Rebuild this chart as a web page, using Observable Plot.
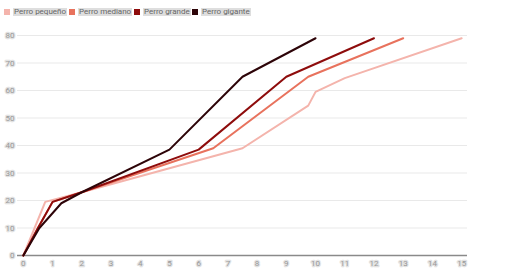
<!DOCTYPE html>
<html>
<head>
<meta charset="utf-8">
<script src="https://cdn.jsdelivr.net/npm/d3@7"></script>
<script src="https://cdn.jsdelivr.net/npm/@observablehq/plot@0.6"></script>
<style>
  html, body { margin: 0; padding: 0; background: #fff; }
  #wrap { width: 510px; height: 277px; position: relative; font-family: Roboto, "Liberation Sans", sans-serif; }
  #legend { height: 20px; position: relative; }
  .item { position: absolute; top: 8px; display: flex; align-items: center; font-size: 8px; color: #666; }
  .sw { width: 6px; height: 6px; margin-right: 3px; }
  .lab { background: #dedede; line-height: 8px; padding: 0 1px; }
  svg { display: block; }
</style>
</head>
<body>
<div id="wrap">
  <div id="legend"></div>
  <div id="chart"></div>
</div>
<script>
const seriesNames = ["Perro pequeño", "Perro mediano", "Perro grande", "Perro gigante"];
const seriesColors = ["#f4b4ac", "#e8725d", "#8e0c0c", "#2d0408"];

const smallX  = [0, 0.75, 2, 7.5, 9.75, 10, 11, 15];
const smallY  = [0, 19.5, 23, 39, 54.5, 59.5, 64.5, 79];
const mediumX = [0, 0.5, 1, 2, 6.5, 9.75, 13];
const mediumY = [0, 10, 19.5, 23, 39, 65, 79];
const largeX  = [0, 0.5, 1, 2, 6, 9, 12];
const largeY  = [0, 10, 19.5, 23, 38.5, 65, 79];
const giantX  = [0, 0.55, 1.3, 2, 5, 7.5, 10];
const giantY  = [0, 10, 19, 23, 38.5, 65, 79];

const xTicks = [0,1,2,3,4,5,6,7,8,9,10,11,12,13,14,15];
const yTicks = [0,10,20,30,40,50,60,70,80];

const allX = [smallX, mediumX, largeX, giantX];
const allY = [smallY, mediumY, largeY, giantY];
const data = [];
allX.forEach((xs, s) => xs.forEach((x, i) => data.push({series: seriesNames[s], x, y: allY[s][i]})));

// legend
const legendLefts = [4, 69, 134, 192];
const legend = document.getElementById("legend");
seriesNames.forEach((n, i) => {
  const it = document.createElement("div");
  it.className = "item";
  it.style.left = legendLefts[i] + "px";
  it.innerHTML = `<span class="sw" style="background:${seriesColors[i]}"></span><span class="lab">${n}</span>`;
  legend.appendChild(it);
});

const plot = Plot.plot({
  width: 510,
  height: 257,
  marginTop: 15,
  marginBottom: 22,
  marginLeft: 17,
  marginRight: 43,
  style: {fontFamily: "Roboto, 'Liberation Sans', sans-serif", fontSize: "8px", background: "#fff"},
  x: {domain: [-0.2, 15.2], axis: null},
  y: {domain: [0, 80], axis: null},
  color: {domain: seriesNames, range: seriesColors},
  marks: [
    Plot.ruleY(yTicks.filter(d => d > 0), {stroke: "#e9e9e9", strokeWidth: 1}),
    Plot.ruleY([0], {stroke: "#8a8a8a", strokeWidth: 1.5}),
    Plot.text(yTicks, {x: -0.2, y: d => d, text: d => String(d), textAnchor: "end", dx: -3, fill: "#999", stroke: "#e2e2e2", strokeWidth: 2.5}),
    Plot.text(xTicks, {x: d => d, y: 0, text: d => String(d), dy: 8, fill: "#999", stroke: "#e2e2e2", strokeWidth: 2.5}),
    Plot.line(data, {x: "x", y: "y", z: "series", stroke: "series", strokeWidth: 2, strokeLinejoin: "miter"})
  ]
});
document.getElementById("chart").appendChild(plot);
</script>
</body>
</html>
